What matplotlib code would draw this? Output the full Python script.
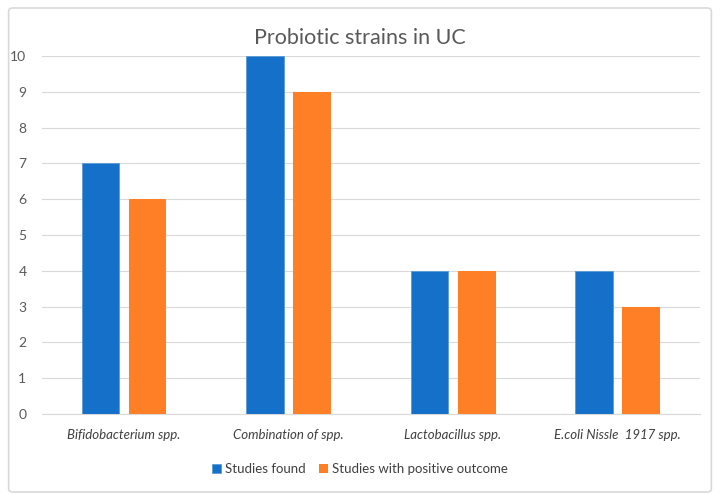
import numpy as np
import matplotlib.pyplot as plt
from matplotlib.patches import FancyBboxPatch

plt.rcParams['font.family'] = ['Lato', 'DejaVu Sans']

categories = ['Bifidobacterium spp.', 'Combination of spp.',
              'Lactobacillus spp.', 'E.coli Nissle  1917 spp.']
studies_found = [7, 10, 4, 4]
studies_positive = [6, 9, 4, 3]

blue = '#1570C9'
orange = '#FF7F27'
grey = '#595959'

fig = plt.figure(figsize=(7.2, 5), dpi=100)
ax = fig.add_axes([0.058, 0.172, 0.914, 0.716])

# outer chart frame
frame = FancyBboxPatch((0.012, 0.016), 0.976, 0.968,
                       boxstyle='round,pad=0,rounding_size=0.006',
                       transform=fig.transFigure, fc='none',
                       ec='#D9D9D9', lw=1.2)
fig.patches.append(frame)

x = np.arange(len(categories))
w = 0.23
off = 0.143
ax.bar(x - off, studies_found, w, color=blue, edgecolor='#5B9BD5', lw=0.6,
       label='Studies found', zorder=3)
ax.bar(x + off, studies_positive, w, color=orange, label='Studies with positive outcome',
       zorder=3)

ax.set_xlim(-0.5, 3.5)
ax.set_ylim(0, 10)
ax.set_yticks(range(0, 11))
ax.grid(axis='y', color='#D9D9D9', lw=0.8, zorder=0)
for s in ['top', 'right', 'left']:
    ax.spines[s].set_visible(False)
ax.spines['bottom'].set_color('#D9D9D9')
ax.tick_params(axis='both', length=0, colors=grey, labelsize=10)
ax.tick_params(axis='y', pad=11)
ax.tick_params(axis='x', pad=11)
ax.set_xticks(x)
ax.set_xticklabels(categories, style='italic', color='#404040', fontsize=9.5)

fig.text(0.5, 0.925, 'Probiotic strains in UC', ha='center', va='center',
         fontsize=15.5, color=grey)

fig.legend(loc='center', bbox_to_anchor=(0.5, 0.062), ncol=2, frameon=False,
           fontsize=9.5, handlelength=0.7, handleheight=0.7, handletextpad=0.3,
           columnspacing=1.0, labelcolor='#404040')

fig.savefig('out.png', dpi=100)
